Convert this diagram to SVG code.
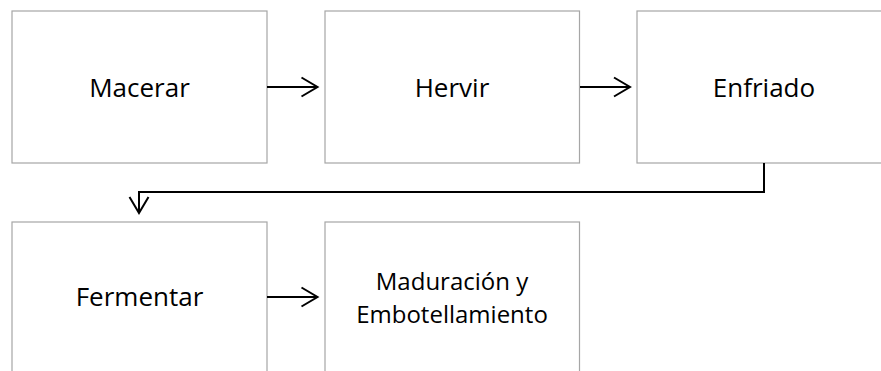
<svg xmlns="http://www.w3.org/2000/svg" width="881" height="371" viewBox="0 0 881 371">
<style>
.box{fill:#fff;stroke:#a6a6a6;stroke-width:1.2}
.lbl{font-family:"Open Sans","Liberation Sans",sans-serif;font-size:26px;fill:#000;text-anchor:middle}
.lbl2{font-size:24px}
.conn{fill:none;stroke:#000;stroke-width:2}
</style>
<defs>
<marker id="arr" markerUnits="userSpaceOnUse" markerWidth="22" markerHeight="24" refX="18" refY="11" orient="auto">
<path d="M2,1.5 L18,11 L2,20.5" fill="none" stroke="#000" stroke-width="2"/>
</marker>
</defs>
<rect width="881" height="371" fill="#fff"/>
<g id="macerar"><rect class="box" x="12" y="11" width="255" height="152"/><text class="lbl" x="139.5" y="96.5">Macerar</text></g>
<g id="hervir"><rect class="box" x="325" y="11" width="254.5" height="152"/><text class="lbl" x="452" y="96.5">Hervir</text></g>
<g id="enfriado"><rect class="box" x="637" y="11" width="260" height="152"/><text class="lbl" x="764" y="96.5">Enfriado</text></g>
<g id="fermentar"><rect class="box" x="12" y="222" width="255" height="160"/><text class="lbl" x="139.5" y="306">Fermentar</text></g>
<g id="maduracion"><rect class="box" x="325" y="222" width="254.5" height="160"/><text class="lbl lbl2" x="452" y="289.5">Maduración y</text><text class="lbl lbl2" x="452" y="323">Embotellamiento</text></g>
<g id="connectors">
<line class="conn" x1="267" y1="87" x2="317.5" y2="87" marker-end="url(#arr)"/>
<line class="conn" x1="580" y1="87" x2="630" y2="87" marker-end="url(#arr)"/>
<polyline class="conn" points="764,163 764,192 139,192 139,213" marker-end="url(#arr)"/>
<line class="conn" x1="267" y1="297" x2="317.5" y2="297" marker-end="url(#arr)"/>
</g>
</svg>
